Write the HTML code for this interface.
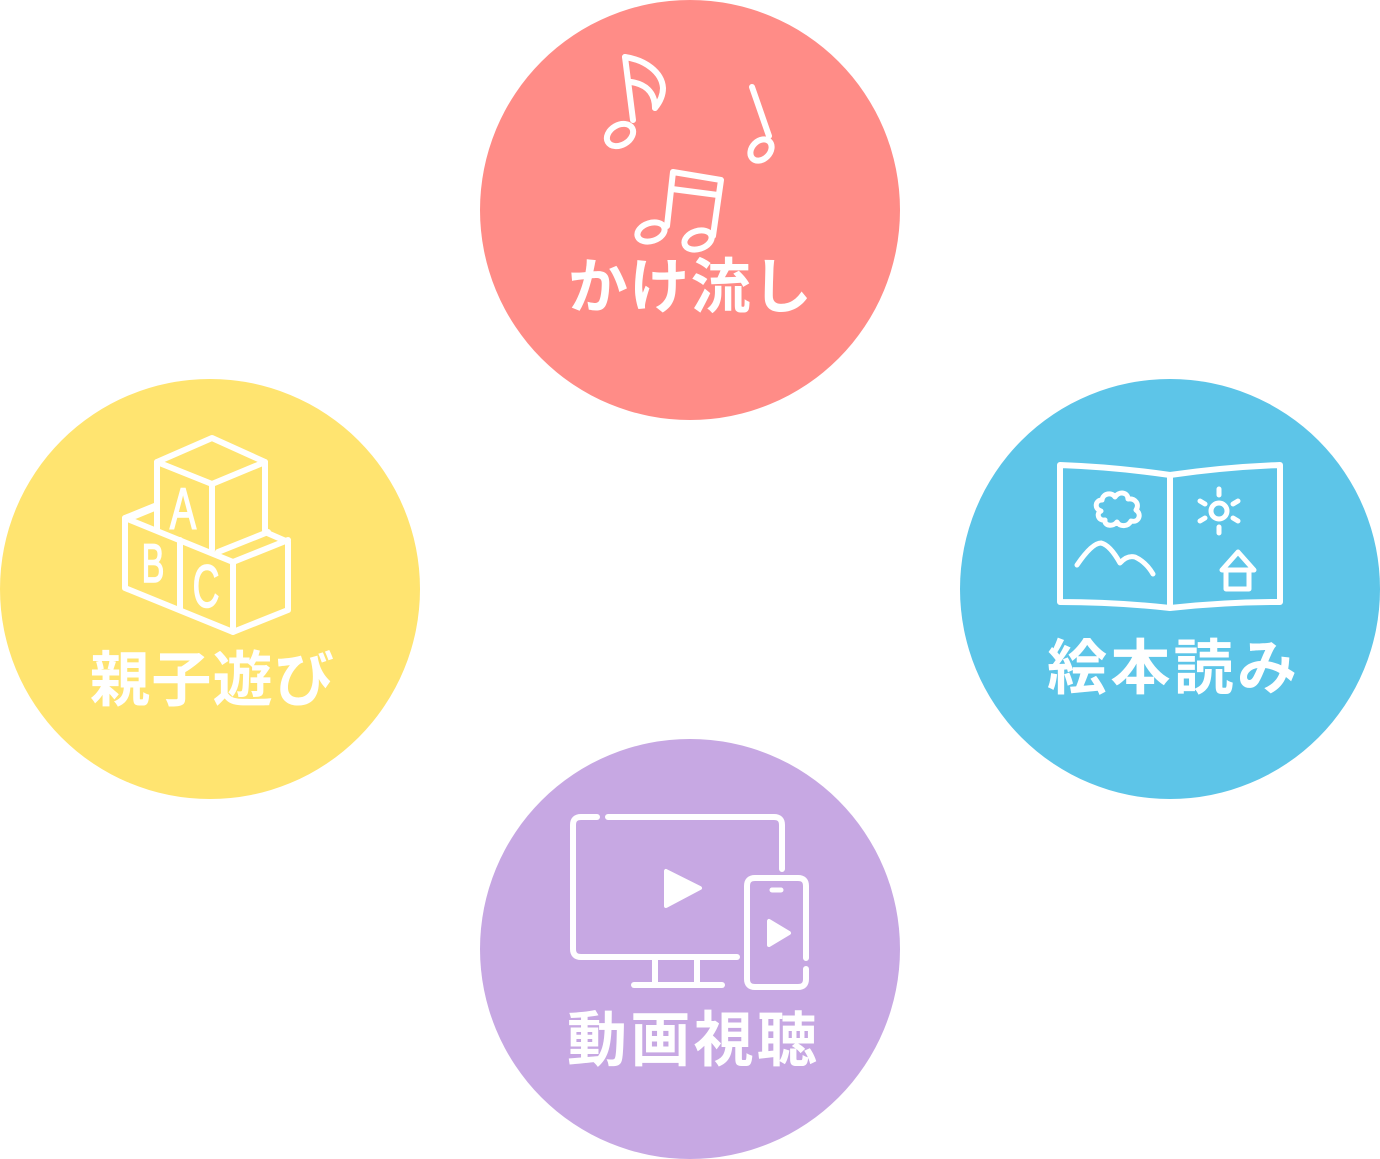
<!DOCTYPE html>
<html><head><meta charset="utf-8"><style>
html,body{margin:0;padding:0;background:#fff;}
svg{display:block;}
text{font-family:"Liberation Sans","Noto Sans CJK JP",sans-serif;font-weight:bold;fill:#fff;}
</style></head><body>
<svg width="1380" height="1159" viewBox="0 0 1380 1159" xmlns="http://www.w3.org/2000/svg">
<circle cx="690" cy="210" r="210" fill="#ff8c87"/>
<circle cx="210" cy="589" r="210" fill="#ffe470"/>
<circle cx="1170" cy="589" r="210" fill="#5dc5e8"/>
<circle cx="690" cy="949" r="210" fill="#c7a8e3"/>

<g fill="none" stroke="#fff" stroke-width="6" stroke-linecap="round" stroke-linejoin="round">
 <!-- music notes -->
 <path d="M625,57 L633,120"/>
 <ellipse cx="620" cy="135" rx="14" ry="10" transform="rotate(-30 620 135)"/>
 <path d="M625,57 C645,60 662,72 663,88 C663,96 660,102 655,108"/>
 <path d="M631,82 C645,84 655,92 655,108"/>
 <path d="M752,87 L769,136"/>
 <ellipse cx="761" cy="150" rx="12" ry="9" transform="rotate(-45 761 150)"/>
 <path d="M667,226 L673,172 L721,180 L713,236"/>
 <path d="M672,189 L718,195"/>
 <ellipse cx="651" cy="232" rx="14" ry="9" transform="rotate(-18 651 232)"/>
 <ellipse cx="698" cy="240" rx="14" ry="9" transform="rotate(-18 698 240)"/>

 <!-- blocks -->
 <path d="M157,462 L212,438 L265,462 L212,484 Z"/>
 <path d="M157,462 L157,530"/>
 <path d="M212,484 L212,550"/>
 <path d="M265,462 L265,530"/>
 <path d="M157,505 L125,518 L125,588 L233,632 L288,610 L288,542 L265,532"/>
 <path d="M125,518 L233,562 L288,540"/>
 <path d="M233,562 L233,632"/>
 <path d="M180,540 L180,610"/>
 <path d="M218,552 L268,532"/>
 <path d="M135,516 L157,507" />

 <!-- book -->
 <path d="M1060,465 Q1115,467 1170,475 Q1225,467 1280,465 L1280,602 Q1225,602 1170,608 Q1115,602 1060,602 Z"/>
 <path d="M1170,475 L1170,608"/>
 <path d="M1101,511 C1094,509 1095,500 1102,500 C1103,493 1112,492 1115,497 C1119,491 1128,492 1128,499 C1135,498 1140,504 1136,510 C1142,514 1139,523 1131,521 C1128,527 1120,527 1117,522 C1113,527 1104,526 1105,520 C1098,521 1096,513 1101,511 Z" stroke-width="5"/>
 <path d="M1077,565 Q1092,543 1101,543 Q1110,545 1120,563 Q1127,555 1135,557 Q1146,562 1153,574" stroke-width="5"/>
 <circle cx="1219" cy="511" r="8" stroke-width="5"/>
 <path d="M1219,489 L1219,495 M1219,527 L1219,533 M1200,501 L1205,504 M1233,518 L1238,521 M1200,521 L1205,518 M1233,504 L1238,501" stroke-width="5"/>
 <path d="M1222,570 L1238,552 L1254,570 Z" stroke-width="5"/>
 <path d="M1226,571 L1226,589 L1249,589 L1249,571" stroke-width="5"/>

 <!-- tv -->
 <path d="M597,817 L581,817 Q573,817 573,825 L573,949 Q573,957 581,957 L737,957"/>
 <path d="M608,817 L774,817 Q782,817 782,825 L782,869"/>
 <path d="M655,959 L655,984 M697,959 L697,984"/>
 <path d="M634,985 L722,985"/>
 <path d="M806,958 L806,886 Q806,878 798,878 L755,878 Q747,878 747,886 L747,979 Q747,987 755,987 L798,987 Q806,987 806,979 L806,969"/>
 <path d="M772,890 L781,890" stroke-width="5"/>
</g>
<g fill="#fff" stroke="#fff" stroke-width="4" stroke-linejoin="round">
 <path d="M666,871 L666,906 L700,888 Z"/>
 <path d="M769,921 L769,945 L789,933 Z"/>
</g>

<!-- ABC letters -->
<g style="font-weight:normal;stroke:#fff;stroke-width:1.6;">
<text transform="translate(183,529) scale(0.68,1)" font-size="58" text-anchor="middle" style="font-weight:normal">A</text>
<text transform="translate(153,582) scale(0.62,1)" font-size="55" text-anchor="middle" style="font-weight:normal">B</text>
<text transform="translate(206,607) scale(0.62,1)" font-size="60" text-anchor="middle" style="font-weight:normal">C</text>
</g>

<!-- labels -->
<text x="568" y="308" font-size="60" textLength="244" lengthAdjust="spacing">かけ流し</text>
<text x="90" y="701" font-size="60" textLength="244" lengthAdjust="spacing">親子遊び</text>
<text x="1047" y="689" font-size="60" textLength="250" lengthAdjust="spacing">絵本読み</text>
<text x="567" y="1061" font-size="60" textLength="250" lengthAdjust="spacing">動画視聴</text>
</svg>
</body></html>
